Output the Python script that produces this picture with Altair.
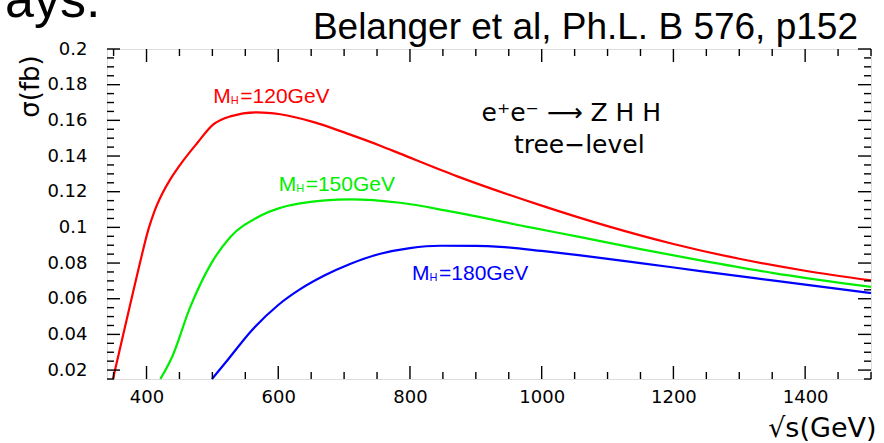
import altair as alt
import pandas as pd

# ---- data ----
red_x = [349, 376, 390, 403, 412, 424, 437, 451, 477, 501, 527, 568, 603, 654, 704, 755, 786, 872, 1000, 1100, 1200, 1300, 1400, 1500]
red_y = [0.015, 0.058, 0.080, 0.099, 0.109, 0.119, 0.1275, 0.1351, 0.1473, 0.1576, 0.1622, 0.1645, 0.1634, 0.1590, 0.1527, 0.1458, 0.1412, 0.1286, 0.1122, 0.1007, 0.0907, 0.0824, 0.0757, 0.0703]

green_x = [421, 439, 466, 497, 527, 573, 633, 709, 785, 861, 983, 1059, 1150, 1241, 1350, 1500]
green_y = [0.015, 0.0275, 0.055, 0.079, 0.0945, 0.1065, 0.1135, 0.1157, 0.1138, 0.1090, 0.1000, 0.0945, 0.0878, 0.0815, 0.0745, 0.0666]

blue_x = [499.4, 525, 558, 600, 634, 670, 709, 755, 800, 846, 900, 937, 1000, 1059, 1150, 1241, 1350, 1500]
blue_y = [0.015, 0.0265, 0.0415, 0.0565, 0.0655, 0.073, 0.0795, 0.0852, 0.0884, 0.0897, 0.0896, 0.0891, 0.0868, 0.0843, 0.0800, 0.0755, 0.0703, 0.0632]

series_names = ["120", "150", "180"]
series_colors = ["#ff0000", "#00ee00", "#0000ff"]

x_major = [400, 600, 800, 1000, 1200, 1400]
x_minor = [350, 450, 500, 550, 650, 700, 750, 850, 900, 950, 1050, 1100, 1150, 1250, 1300, 1350, 1450, 1500]
y_major = [0.02, 0.04, 0.06, 0.08, 0.1, 0.12, 0.14, 0.16, 0.18, 0.2]
y_minor = [0.015, 0.025, 0.03, 0.035, 0.045, 0.05, 0.055, 0.065, 0.07, 0.075, 0.085, 0.09, 0.095,
           0.105, 0.11, 0.115, 0.125, 0.13, 0.135, 0.145, 0.15, 0.155, 0.165, 0.17, 0.175, 0.185, 0.19, 0.195]

label_x = [501.4, 600.6, 803.1]
label_y = [0.1697, 0.1202, 0.0707]
label_val = ["=120GeV", "=150GeV", "=180GeV"]

proc_x = [1045, 1057]
proc_y = [0.1594, 0.1417]
proc_text = ["e\u207ae\u207b \u27f6 Z H H", "tree\u2212level"]

# ---- tables ----
rows = []
for name, xs_, ys_ in zip(series_names, [red_x, green_x, blue_x], [red_y, green_y, blue_y]):
    for a, b in zip(xs_, ys_):
        rows.append({"x": a, "y": b, "series": name})
curves = pd.DataFrame(rows)
labels = pd.DataFrame({"x": label_x, "y": label_y, "series": series_names, "val": label_val})
procs = pd.DataFrame({"x": proc_x, "y": proc_y, "t": proc_text})

W, H = 764, 330
MAJ, MIN = 13, 7
xs = alt.Scale(domain=[340, 1500], nice=False, zero=False)
ys = alt.Scale(domain=[0.015, 0.2], nice=False, zero=False)
cs = alt.Scale(domain=series_names, range=series_colors)
FONT = "DejaVu Sans"

lines = alt.Chart(curves).mark_line(strokeWidth=2.2, interpolate="monotone").encode(
    x=alt.X("x:Q", scale=xs, axis=alt.Axis(orient="bottom", values=x_major, format="d", ticks=False,
                                           domain=False, grid=False, labelFont=FONT, labelFontSize=18,
                                           labelColor="black", labelPadding=9, title="\u221as(GeV)",
                                           titleFont=FONT, titleFontSize=27, titleFontWeight="normal",
                                           titleColor="black", titleX=769, titleY=57, titleAlign="right",
                                           titleBaseline="alphabetic")),
    y=alt.Y("y:Q", scale=ys, axis=alt.Axis(orient="left", values=y_major, format="~g", ticks=False,
                                           domain=False, grid=False, labelFont=FONT, labelFontSize=18,
                                           labelColor="black", labelPadding=20, title="\u03c3(fb)",
                                           titleFont=FONT, titleFontSize=26, titleFontWeight="normal",
                                           titleColor="black", titleX=-77, titleY=37, titleAlign="center",
                                           titleBaseline="middle")),
    color=alt.Color("series:N", scale=cs, legend=None),
    detail="series:N",
)


def xticks(values, y0, y1):
    return alt.Chart(pd.DataFrame({"v": values})).mark_rule(color="black", strokeWidth=1.4).encode(
        x=alt.X("v:Q", scale=xs, axis=None), y=alt.value(y0), y2=alt.value(y1))


def yticks(values, x0, x1):
    return alt.Chart(pd.DataFrame({"v": values})).mark_rule(color="black", strokeWidth=1.4).encode(
        y=alt.Y("v:Q", scale=ys, axis=None), x=alt.value(x0), x2=alt.value(x1))


tick_layers = [
    xticks(x_major, H, H - MAJ), xticks(x_minor, H, H - MIN),
    xticks(x_major, 0, MAJ), xticks(x_minor, 0, MIN),
    yticks(y_major, 0, MAJ), yticks(y_minor, 0, MIN),
    yticks(y_major, W, W - MAJ), yticks(y_minor, W, W - MIN),
]

lab_enc = dict(
    x=alt.X("x:Q", scale=xs, axis=None),
    y=alt.Y("y:Q", scale=ys, axis=None),
    color=alt.Color("series:N", scale=cs, legend=None),
)
labM = alt.Chart(labels).mark_text(font="Liberation Sans", fontSize=21, align="left",
                                   baseline="alphabetic", text="M").encode(**lab_enc)
labH = alt.Chart(labels).mark_text(font="Liberation Sans", fontSize=11, align="left",
                                   baseline="alphabetic", dx=17.5, dy=1, text="H").encode(**lab_enc)
labV = alt.Chart(labels).mark_text(font="Liberation Sans", fontSize=21, align="left",
                                   baseline="alphabetic", dx=27).encode(text="val:N", **lab_enc)

proc = alt.Chart(procs).mark_text(font=FONT, fontSize=25, align="center", baseline="alphabetic",
                                  color="black").encode(
    x=alt.X("x:Q", scale=xs, axis=None),
    y=alt.Y("y:Q", scale=ys, axis=None),
    text="t:N",
)

ref = alt.Chart(pd.DataFrame({"t": ["Belanger et al, Ph.L. B 576, p152"]})).mark_text(
    font="Liberation Sans", fontSize=37, align="right", baseline="alphabetic", color="black"
).encode(x=alt.value(751), y=alt.value(-10), text="t:N")

cut = alt.Chart(pd.DataFrame({"t": ["ays."]})).mark_text(
    font="Liberation Sans", fontSize=52, align="left", baseline="alphabetic", color="black"
).encode(x=alt.value(-102), y=alt.value(-32), text="t:N")

chart = alt.layer(lines, *tick_layers, labM, labH, labV, proc, ref, cut).resolve_axis(
    x="independent", y="independent"
).properties(
    width=W, height=H, autosize=alt.AutoSizeParams(type="none"),
    padding={"left": 107, "top": 49, "right": 13, "bottom": 64},
).configure_view(stroke="black", strokeWidth=1.8).configure(background="white")

chart.save("out.html", embed_options={"renderer": "svg", "actions": False})
